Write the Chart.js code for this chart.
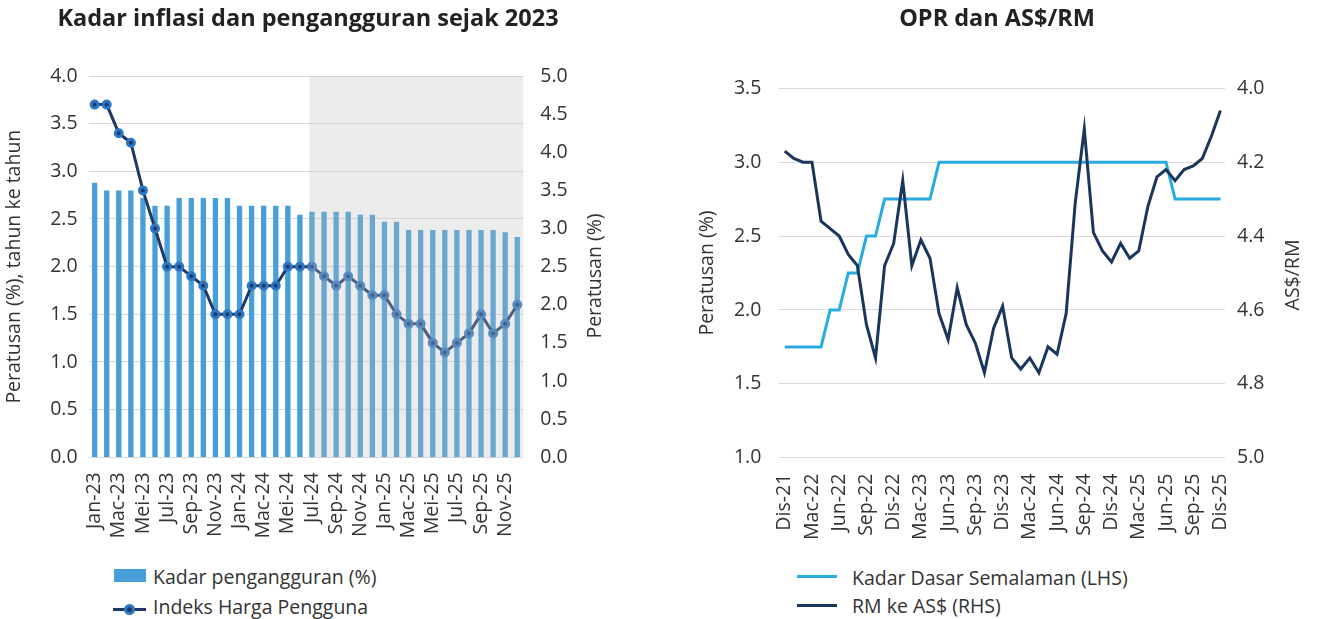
<!DOCTYPE html>
<html lang="ms">
<head>
<meta charset="UTF-8">
<title>Kadar inflasi dan pengangguran / OPR dan AS$/RM</title>
<script src="https://cdn.jsdelivr.net/npm/chart.js"></script>
<style>
  body { margin: 0; background: #fff; font-family: "Open Sans", sans-serif; color: #333; }
  .panel { position: absolute; top: 0; height: 560px; }
  #leftPanel { left: 0; width: 616px; }
  #rightPanel { left: 680px; width: 634px; }
  .lg { position: absolute; white-space: nowrap; font-size: 19.5px; line-height: 24px; color: #333; }
  .sw { position: absolute; }
</style>
</head>
<body>
<div class="panel" id="leftPanel"><canvas id="cLeft"></canvas></div>
<div class="panel" id="rightPanel"><canvas id="cRight"></canvas></div>

<!-- legenda kiri -->
<div class="sw" style="left:114px;top:569px;width:32px;height:13px;background:rgb(72,158,214)"></div>
<div class="lg" style="left:153px;top:565px">Kadar pengangguran (%)</div>
<div class="sw" style="left:113px;top:608px;width:33px;height:3px;background:#1f3864"></div>
<div class="sw" style="left:124px;top:604px;width:5px;height:5px;border:3px solid #2a78c6;border-radius:50%;background:#1f3864"></div>
<div class="lg" style="left:153px;top:595px">Indeks Harga Pengguna</div>

<!-- legenda kanan -->
<div class="sw" style="left:797px;top:575px;width:40px;height:3px;background:#29abe2"></div>
<div class="lg" style="left:852px;top:566px">Kadar Dasar Semalaman (LHS)</div>
<div class="sw" style="left:797px;top:604px;width:40px;height:3px;background:#1b365d"></div>
<div class="lg" style="left:852px;top:594px">RM ke AS$ (RHS)</div>

<script>
// --- Carta kiri: inflasi dan pengangguran (bulanan, Jan-23 hingga Dis-25)
const monthsA = [
  'Jan-23','Feb-23','Mac-23','Apr-23','Mei-23','Jun-23','Jul-23','Ogo-23','Sep-23','Okt-23','Nov-23','Dis-23',
  'Jan-24','Feb-24','Mac-24','Apr-24','Mei-24','Jun-24','Jul-24','Ogo-24','Sep-24','Okt-24','Nov-24','Dis-24',
  'Jan-25','Feb-25','Mac-25','Apr-25','Mei-25','Jun-25','Jul-25','Ogo-25','Sep-25','Okt-25','Nov-25','Dis-25'
];
const unemployment = [
  3.6, 3.5, 3.5, 3.5, 3.4, 3.3, 3.3, 3.4, 3.4, 3.4, 3.4, 3.4,
  3.3, 3.3, 3.3, 3.3, 3.3, 3.18, 3.22, 3.22, 3.22, 3.22, 3.18, 3.18,
  3.09, 3.09, 2.98, 2.98, 2.98, 2.98, 2.98, 2.98, 2.98, 2.98, 2.95, 2.89
];
const cpi = [
  3.7, 3.7, 3.4, 3.3, 2.8, 2.4, 2.0, 2.0, 1.9, 1.8, 1.5, 1.5,
  1.5, 1.8, 1.8, 1.8, 2.0, 2.0, 2.0, 1.9, 1.8, 1.9, 1.8, 1.7,
  1.7, 1.5, 1.4, 1.4, 1.2, 1.1, 1.2, 1.3, 1.5, 1.3, 1.4, 1.6
];
const shadeFrom = 'Jul-24';   // kawasan berlorek bermula di sini

// --- Carta kanan: OPR dan RM ke AS$ (bulanan, Dis-21 hingga Dis-25)
const monthsB = [
  'Dis-21',
  'Jan-22','Feb-22','Mac-22','Apr-22','Mei-22','Jun-22','Jul-22','Ogo-22','Sep-22','Okt-22','Nov-22','Dis-22',
  'Jan-23','Feb-23','Mac-23','Apr-23','Mei-23','Jun-23','Jul-23','Ogo-23','Sep-23','Okt-23','Nov-23','Dis-23',
  'Jan-24','Feb-24','Mac-24','Apr-24','Mei-24','Jun-24','Jul-24','Ogo-24','Sep-24','Okt-24','Nov-24','Dis-24',
  'Jan-25','Feb-25','Mac-25','Apr-25','Mei-25','Jun-25','Jul-25','Ogo-25','Sep-25','Okt-25','Nov-25','Dis-25'
];
const opr = [
  1.75, 1.75, 1.75, 1.75, 1.75, 2.00, 2.00, 2.25, 2.25, 2.50, 2.50, 2.75, 2.75,
  2.75, 2.75, 2.75, 2.75, 3.00, 3.00, 3.00, 3.00, 3.00, 3.00, 3.00, 3.00,
  3.00, 3.00, 3.00, 3.00, 3.00, 3.00, 3.00, 3.00, 3.00, 3.00, 3.00, 3.00,
  3.00, 3.00, 3.00, 3.00, 3.00, 3.00, 2.75, 2.75, 2.75, 2.75, 2.75, 2.75
];
const rmUsd = [
  4.17,
  4.19, 4.20, 4.20, 4.36, 4.38, 4.40, 4.45, 4.48, 4.64, 4.73, 4.48, 4.42,
  4.25, 4.48, 4.41, 4.46, 4.61, 4.68, 4.54, 4.64, 4.69, 4.77, 4.65, 4.59,
  4.73, 4.76, 4.73, 4.77, 4.70, 4.72, 4.61, 4.31, 4.11, 4.39, 4.44, 4.47,
  4.42, 4.46, 4.44, 4.32, 4.24, 4.22, 4.25, 4.22, 4.21, 4.19, 4.13, 4.06
];
const tickEvery = 3;   // label paksi-x kanan setiap 3 bulan

const FONT = "'Open Sans', sans-serif";
const TXT = '#333333';
const GRID = '#d9d9d9';
const NAVY = '#1f3864';
const tickFont = { family: FONT, size: 19.5 };
const titleFont = { family: FONT, size: 23.5, weight: 'bold' };

Chart.defaults.font.family = FONT;
Chart.defaults.color = TXT;

// tajuk paksi kanan dibaca dari bawah ke atas (seperti paksi kiri)
const sideTitle = {
  id: 'sideTitle',
  afterDraw(chart, args, opts) {
    const ctx = chart.ctx;
    ctx.save();
    ctx.translate(opts.x, opts.y);
    ctx.rotate(-Math.PI / 2);
    ctx.font = '19.5px ' + FONT;
    ctx.fillStyle = TXT;
    ctx.textAlign = 'center';
    ctx.textBaseline = 'middle';
    ctx.fillText(opts.text, 0, 0);
    ctx.restore();
  }
};

// lapisan kelabu lut sinar di atas bar dan garis
const shade = {
  id: 'shade',
  afterDatasetsDraw(chart) {
    const { ctx, chartArea } = chart;
    const bar = chart.getDatasetMeta(1).data[monthsA.indexOf(shadeFrom)];
    const x0 = bar.x - bar.width / 2;
    ctx.save();
    ctx.fillStyle = 'rgba(190,190,190,0.29)';
    ctx.fillRect(x0, chartArea.top, chartArea.right - x0, chartArea.bottom - chartArea.top);
    ctx.restore();
  }
};

new Chart(document.getElementById('cLeft'), {
  type: 'bar',
  data: {
    labels: monthsA,
    datasets: [
      {
        type: 'line',
        label: 'Indeks Harga Pengguna',
        data: cpi,
        yAxisID: 'y',
        borderColor: NAVY,
        borderWidth: 3,
        tension: 0,
        pointRadius: 3.5,
        pointBorderWidth: 3,
        pointBackgroundColor: NAVY,
        pointBorderColor: '#2a78c6',
        order: 0
      },
      {
        label: 'Kadar pengangguran (%)',
        data: unemployment,
        yAxisID: 'y1',
        backgroundColor: 'rgb(72,158,214)',
        barPercentage: 0.44,
        categoryPercentage: 1,
        order: 1
      }
    ]
  },
  options: {
    responsive: true,
    maintainAspectRatio: false,
    animation: false,
    layout: { padding: 0 },
    plugins: {
      legend: { display: false },
      title: {
        display: true,
        text: 'Kadar inflasi dan pengangguran sejak 2023',
        color: '#222',
        font: titleFont,
        padding: { top: 5, bottom: 42.8 }
      },
      sideTitle: { text: 'Peratusan (%)', x: 595, y: 276 }
    },
    scales: {
      x: {
        grid: { display: false, drawTicks: false },
        border: { display: false },
        ticks: {
          autoSkip: false,
          maxRotation: 90,
          minRotation: 90,
          padding: 15,
          font: tickFont,
          callback: function (v, i) { return i % 2 === 0 ? this.getLabelForValue(v) : ''; }
        },
        afterFit: s => { s.height = 102.7; }
      },
      y: {
        position: 'left',
        min: 0,
        max: 4,
        ticks: { stepSize: 0.5, padding: 11, font: tickFont, callback: v => v.toFixed(1) },
        grid: { color: GRID, drawTicks: false },
        border: { display: false },
        title: {
          display: true,
          text: 'Peratusan (%), tahun ke tahun',
          font: tickFont,
          padding: { top: 3, bottom: 0 }
        },
        afterFit: s => { s.width = 88.6; }
      },
      y1: {
        position: 'right',
        min: 0,
        max: 5,
        ticks: { stepSize: 0.5, padding: 17, font: tickFont, callback: v => v.toFixed(1) },
        grid: { display: false, drawTicks: false },
        border: { display: false },
        afterFit: s => { s.width = 92.7; }
      }
    }
  },
  plugins: [shade, sideTitle]
});

new Chart(document.getElementById('cRight'), {
  type: 'line',
  data: {
    datasets: [
      {
        label: 'RM ke AS$ (RHS)',
        data: rmUsd.map((v, i) => ({ x: i, y: v })),
        yAxisID: 'y1',
        borderColor: '#1b365d',
        borderWidth: 3,
        pointRadius: 0,
        tension: 0,
        order: 0
      },
      {
        label: 'Kadar Dasar Semalaman (LHS)',
        data: opr.map((v, i) => ({ x: i, y: v })),
        yAxisID: 'y',
        borderColor: '#29abe2',
        borderWidth: 3,
        pointRadius: 0,
        tension: 0,
        order: 1
      }
    ]
  },
  options: {
    responsive: true,
    maintainAspectRatio: false,
    animation: false,
    layout: { padding: 0 },
    plugins: {
      legend: { display: false },
      title: {
        display: true,
        text: 'OPR dan AS$/RM',
        color: '#222',
        font: titleFont,
        padding: { top: 5, bottom: 55.1 }
      },
      sideTitle: { text: 'AS$/RM', x: 613, y: 275 }
    },
    scales: {
      x: {
        type: 'linear',
        min: -0.6,
        max: 48.5,
        grid: { display: false, drawTicks: false },
        border: { display: false },
        afterBuildTicks: s => {
          s.ticks = monthsB.map((m, i) => ({ value: i })).filter(t => t.value % tickEvery === 0);
        },
        ticks: {
          autoSkip: false,
          maxRotation: 90,
          minRotation: 90,
          padding: 16,
          font: tickFont,
          callback: v => monthsB[v]
        },
        afterFit: s => { s.height = 102.3; }
      },
      y: {
        position: 'left',
        min: 1.0,
        max: 3.5,
        ticks: { stepSize: 0.5, padding: 18, font: tickFont, callback: v => v.toFixed(1) },
        grid: { color: GRID, drawTicks: false },
        border: { display: false },
        title: {
          display: true,
          text: 'Peratusan (%)',
          font: tickFont,
          padding: { top: 16, bottom: 0 }
        },
        afterFit: s => { s.width = 99.3; }
      },
      y1: {
        position: 'right',
        reverse: true,
        min: 4.0,
        max: 5.0,
        ticks: { stepSize: 0.2, padding: 12, font: tickFont, callback: v => v.toFixed(1) },
        grid: { display: false, drawTicks: false },
        border: { display: false },
        afterFit: s => { s.width = 89; }
      }
    }
  },
  plugins: [sideTitle]
});
</script>
</body>
</html>
